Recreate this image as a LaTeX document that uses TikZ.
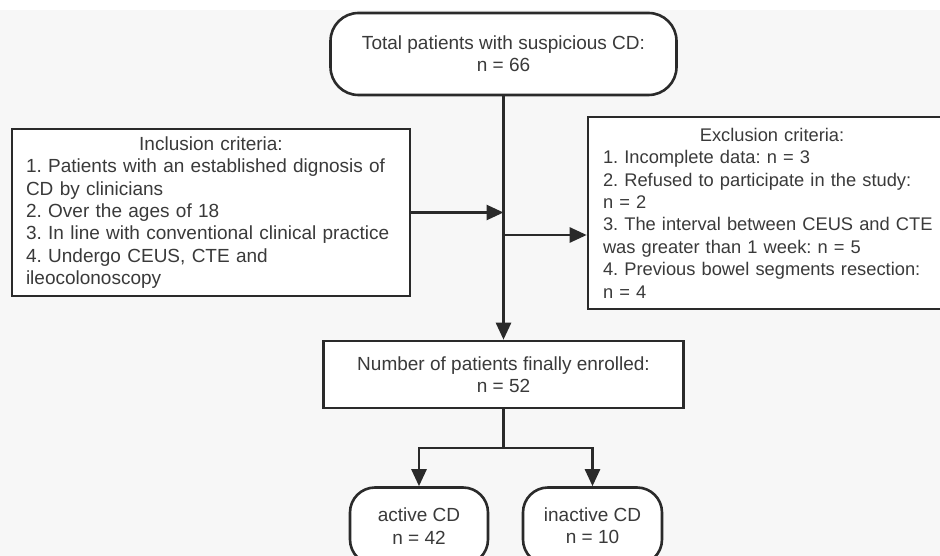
\documentclass[tikz,border=0pt]{standalone}
\usepackage{fontspec}
\setmainfont{Liberation Sans}
\usetikzlibrary{arrows.meta}
\definecolor{bg}{HTML}{F7F7F7}
\definecolor{ink}{HTML}{2A2A2A}
\definecolor{txt}{HTML}{3A3A3A}
\begin{document}
\frenchspacing
\begin{tikzpicture}[x=1pt,y=-1pt,
  font=\fontsize{19}{22.4}\selectfont\frenchspacing, text=txt,
  box/.style={draw=ink, line width=2.6pt, fill=white, inner sep=0pt},
  arr/.style={draw=ink, line width=2.6pt, -{Triangle[length=17pt,width=15pt]}},
  ln/.style={draw=ink, line width=2.6pt}]
\useasboundingbox (0,0) rectangle (940,556);
\clip (0,0) rectangle (940,556);
\fill[bg] (0,0) rectangle (940,556);
\fill[white] (0,0) rectangle (940,10);

\node[box, rounded corners=28pt, minimum width=346pt, minimum height=82pt, align=center]
  (top) at (503.5,54) {Total patients with suspicious CD:\\n = 66};

\node[box, minimum width=398pt, minimum height=167pt, text width=370pt, align=left]
  (inc) at (211,212.5) {\makebox[370pt]{Inclusion criteria:}\\
  1. Patients with an established dignosis of\\
  CD by clinicians\\
  2. Over the ages of 18\\
  3. In line with conventional clinical practice\\
  4. Undergo CEUS, CTE and\\
  ileocolonoscopy};

\node[box, minimum width=400pt, minimum height=192pt, text width=370pt, align=left,
  font=\fontsize{18.3}{22.4}\selectfont\frenchspacing]
  (excl) at (788,213) {\makebox[338pt]{Exclusion criteria:}\\
  1. Incomplete data: n = 3\\
  2. Refused to participate in the study:\\
  n = 2\\
  3. The interval between CEUS and CTE\\
  was greater than 1 week: n = 5\\
  4. Previous bowel segments resection:\\
  n = 4};

\node[box, minimum width=360pt, minimum height=67pt, align=center]
  (enr) at (503.5,374.5) {Number of patients finally enrolled:\\n = 52};

\node[box, rounded corners=25pt, minimum width=138pt, minimum height=77pt, align=center]
  (act) at (419,526) {active CD\\n = 42};
\node[box, rounded corners=25pt, minimum width=139pt, minimum height=77pt, align=center]
  (inact) at (592.5,526) {inactive CD\\n = 10};

\coordinate (split) at (503.5,448);
\path (excl.west) ++(0,22) coordinate (exin);

\draw[arr] (top.south) -- (top.south |- enr.north);
\draw[arr] (inc.east) -- (inc.east -| top.south);
\draw[arr] (exin -| top.south) -- (exin);
\draw[ln] (enr.south) -- (split);
\draw[arr] (split) -| (act.north);
\draw[arr] (split) -| (inact.north);
\end{tikzpicture}
\end{document}
